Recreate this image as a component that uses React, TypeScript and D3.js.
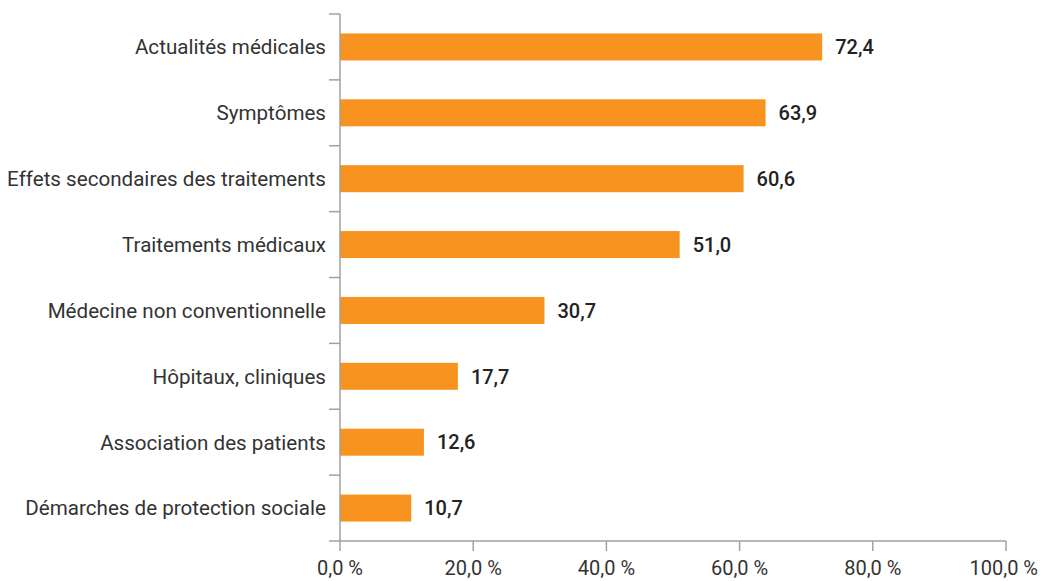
import { scaleBand, scaleLinear } from "d3";

const categories = [
  "Actualités médicales",
  "Symptômes",
  "Effets secondaires des traitements",
  "Traitements médicaux",
  "Médecine non conventionnelle",
  "Hôpitaux, cliniques",
  "Association des patients",
  "Démarches de protection sociale",
];
const values = [72.4, 63.9, 60.6, 51.0, 30.7, 17.7, 12.6, 10.7];
const ticks = [0, 20, 40, 60, 80, 100];

const fmt = (v: number, d: number) => v.toFixed(d).replace(".", ",");

export default function App() {
  const width = 1040;
  const height = 581;
  const left = 340;
  const right = 1006;
  const top = 14;
  const bottom = 541;

  const x = scaleLinear().domain([0, 100]).range([left, right]);
  const y = scaleBand<string>().domain(categories).range([top, bottom]).paddingInner(0.59).paddingOuter(0.295);
  const step = y.step();
  const axisColor = "#a0a0a0";
  const font = "Roboto, 'Noto Sans', sans-serif";

  return (
    <svg width={width} height={height} style={{ position: "absolute", left: 0, top: 0 }} fontFamily={font}>
      {values.map((v, i) => (
        <g key={i}>
          <rect x={x(0)} y={y(categories[i])} width={x(v) - x(0)} height={y.bandwidth()} fill="#F7931E" />
          <text x={x(v) + 13} y={y(categories[i])! + y.bandwidth() / 2} dy="0.36em" fontSize={20} fontWeight={500} fill="#222">
            {fmt(v, 1)}
          </text>
          <text x={left - 14} y={y(categories[i])! + y.bandwidth() / 2} dy="0.36em" fontSize={20.6} textAnchor="end" fill="#333">
            {categories[i]}
          </text>
        </g>
      ))}
      {/* y axis ticks between categories */}
      {Array.from({ length: categories.length + 1 }, (_, i) => (
        <line key={i} x1={left - 11} x2={left} y1={top + i * step} y2={top + i * step} stroke={axisColor} strokeWidth={1.5} />
      ))}
      <line x1={left} x2={left} y1={top} y2={bottom} stroke={axisColor} strokeWidth={1.5} />
      <line x1={left} x2={right} y1={bottom} y2={bottom} stroke={axisColor} strokeWidth={1.5} />
      {ticks.map((t, i) => {
        const last = i === ticks.length - 1;
        return (
          <g key={t}>
            <line x1={x(t)} x2={x(t)} y1={bottom} y2={bottom + 10} stroke={axisColor} strokeWidth={1.5} />
            <text
              x={last ? width - 2 : x(t)}
              y={575}
              fontSize={20}
              textAnchor={last ? "end" : "middle"}
              fill="#333"
            >
              {fmt(t, 1)} %
            </text>
          </g>
        );
      })}
    </svg>
  );
}
